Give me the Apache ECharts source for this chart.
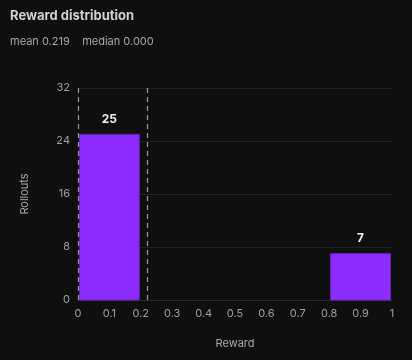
<!DOCTYPE html>
<html>
<head>
<meta charset="utf-8">
<script src="https://cdn.jsdelivr.net/npm/echarts@6/dist/echarts.min.js"></script>
<style>
  html, body { margin: 0; padding: 0; background: #0f0f0f; }
  #main { width: 412px; height: 360px; }
</style>
</head>
<body>
<div id="main"></div>
<script>
// histogram data
var binStarts = [0, 0.2, 0.4, 0.6, 0.8];
var binWidth = 0.2;
var counts = [25, 0, 0, 0, 7];
var meanValue = 0.219;
var medianValue = 0.0;
var yTicks = [0, 8, 16, 24, 32];

var chart = echarts.init(document.getElementById('main'));

var barData = [];
for (var i = 0; i < binStarts.length; i++) {
    barData.push([binStarts[i], binStarts[i] + binWidth, counts[i]]);
}

var option = {
    backgroundColor: '#0f0f0f',
    textStyle: { fontFamily: 'Inter, "Noto Sans", sans-serif' },
    title: {
        text: 'Reward distribution',
        subtext: 'mean ' + meanValue.toFixed(3) + '    median ' + medianValue.toFixed(3),
        left: 5,
        top: 5,
        itemGap: 13,
        textStyle: { color: '#d0d0d0', fontSize: 13, fontWeight: 'bold' },
        subtextStyle: { color: '#a8a8a8', fontSize: 11 }
    },
    grid: { left: 78, right: 20, top: 88, bottom: 60 },
    xAxis: {
        type: 'value',
        min: 0,
        max: 1,
        interval: 0.1,
        name: 'Reward',
        nameLocation: 'middle',
        nameGap: 38,
        nameTextStyle: { color: '#a8a8a8', fontSize: 11 },
        axisLine: { show: true, lineStyle: { color: '#2a2a2a' } },
        axisTick: { show: false },
        splitLine: { show: false },
        axisLabel: {
            color: '#a0a0a0',
            fontSize: 11,
            margin: 8,
            formatter: function (v) { return String(Math.round(v * 10) / 10); }
        }
    },
    yAxis: {
        type: 'value',
        min: yTicks[0],
        max: yTicks[yTicks.length - 1],
        interval: 8,
        name: 'Rollouts',
        nameLocation: 'middle',
        nameGap: 48,
        nameRotate: 90,
        nameTextStyle: { color: '#a8a8a8', fontSize: 11 },
        axisLine: { show: false },
        axisTick: { show: false },
        axisLabel: { color: '#a0a0a0', fontSize: 11, margin: 8 },
        splitLine: { lineStyle: { color: '#222222', width: 1 } }
    },
    series: [{
        type: 'custom',
        data: barData,
        encode: { x: [0, 1], y: 2 },
        renderItem: function (params, api) {
            var x0 = api.value(0), x1 = api.value(1), c = api.value(2);
            if (!c) return null;
            var p0 = api.coord([x0, c]);
            var p1 = api.coord([x1, 0]);
            return {
                type: 'group',
                children: [{
                    type: 'rect',
                    shape: { x: p0[0] + 1.5, y: p0[1], width: p1[0] - p0[0] - 3, height: p1[1] - p0[1] },
                    style: { fill: '#8d2cff', stroke: '#6a22c0', lineWidth: 1 }
                }, {
                    type: 'text',
                    x: (p0[0] + p1[0]) / 2,
                    y: p0[1] - 15,
                    style: {
                        text: String(c),
                        fill: '#f0f0f0',
                        fontSize: 12,
                        fontWeight: 'bold',
                        fontFamily: 'Inter, "Noto Sans", sans-serif',
                        align: 'center',
                        verticalAlign: 'middle'
                    }
                }]
            };
        },
        markLine: {
            silent: true,
            symbol: ['none', 'none'],
            label: { show: false },
            lineStyle: { color: '#9a9a9a', type: [5, 4], width: 1.2 },
            data: [{ xAxis: medianValue }, { xAxis: meanValue }]
        }
    }]
};

chart.setOption(option);
</script>
</body>
</html>
